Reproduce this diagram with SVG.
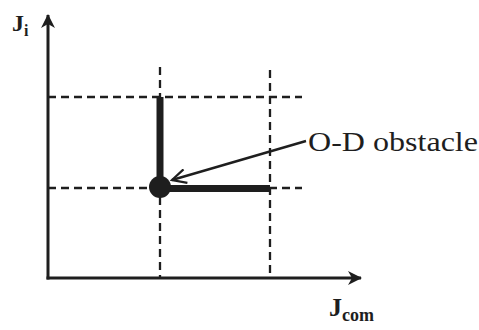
<svg xmlns="http://www.w3.org/2000/svg" width="479" height="330" viewBox="0 0 479 330">
<style>
.dash{stroke:#1e1e1e;stroke-width:2.3;stroke-dasharray:8 5;fill:none}
.axis{stroke:#1e1e1e;stroke-width:3;fill:none}
.thick{stroke:#1e1e1e;stroke-width:7;fill:none}
.lbl{font-family:"Liberation Serif",serif;fill:#1e1e1e}
</style>
<defs>
<marker id="ah" markerWidth="16" markerHeight="16" refX="13" refY="8" orient="auto" markerUnits="userSpaceOnUse">
<path d="M0,1 L14,8 L0,15 L4,8 Z" fill="#1e1e1e"/>
</marker>
<marker id="la" markerWidth="18" markerHeight="16" refX="15" refY="8" orient="auto" markerUnits="userSpaceOnUse">
<path d="M1,1 L15,8 L1,15" fill="none" stroke="#1e1e1e" stroke-width="2.2"/>
</marker>
</defs>
<g id="grid">
<line class="dash" x1="48" y1="97" x2="302" y2="97"/>
<line class="dash" x1="48" y1="188" x2="302" y2="188"/>
<line class="dash" x1="160" y1="67" x2="160" y2="278"/>
<line class="dash" x1="270" y1="70" x2="270" y2="278"/>
</g>
<g id="obstacle">
<line class="thick" x1="160" y1="97" x2="160" y2="188"/>
<line class="thick" x1="160" y1="188.5" x2="270" y2="188.5"/>
<circle cx="160" cy="187" r="11" fill="#1e1e1e"/>
</g>
<g id="connectors">
<line class="axis" x1="48" y1="279.5" x2="48" y2="15" marker-end="url(#ah)"/>
<line class="axis" x1="46.5" y1="278" x2="361" y2="278" marker-end="url(#ah)"/>
<line x1="306" y1="141" x2="172" y2="180" stroke="#1e1e1e" stroke-width="2.4" marker-end="url(#la)"/>
</g>
<g id="labels">
<text class="lbl" x="12" y="31" font-size="24" font-weight="bold">J<tspan font-size="16" dy="5">i</tspan></text>
<text class="lbl" x="329" y="316" font-size="26" font-weight="bold">J<tspan font-size="18" dy="5">com</tspan></text>
<text class="lbl" x="308" y="151" font-size="28" textLength="170" lengthAdjust="spacingAndGlyphs">O-D obstacle</text>
</g>
</svg>
